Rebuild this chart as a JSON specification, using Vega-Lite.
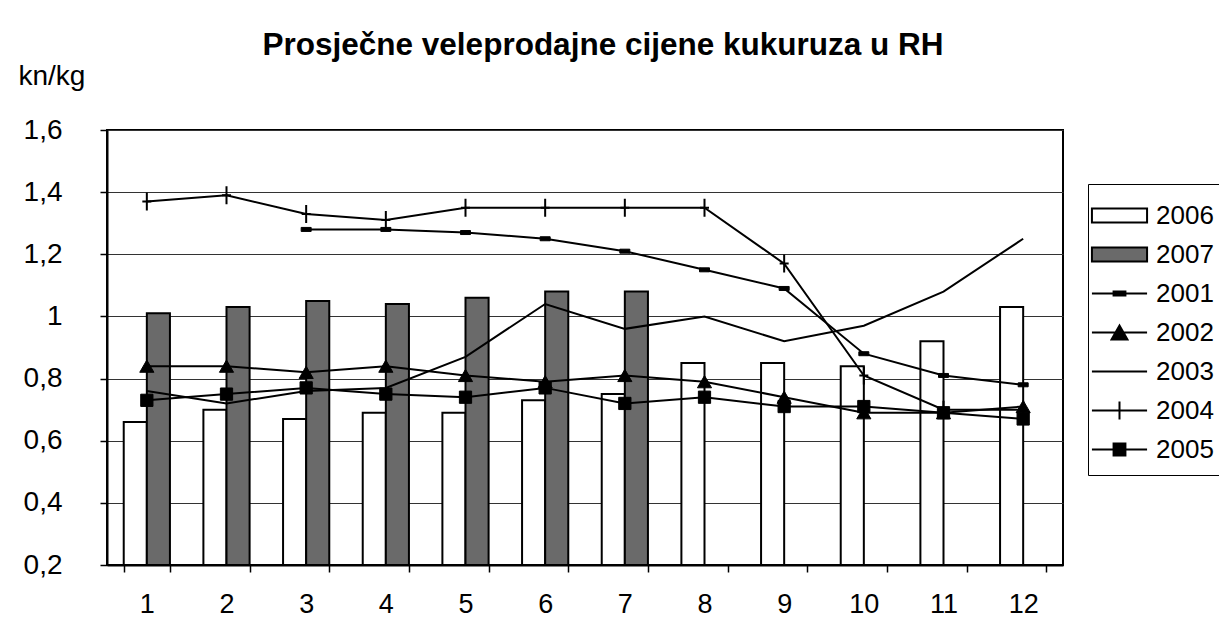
{
  "$schema": "https://vega.github.io/schema/vega-lite/v6.json",
  "autosize": {"type": "none"},
  "width": 956,
  "height": 435,
  "padding": {"left": 107, "top": 130, "right": 156, "bottom": 76},
  "background": "white",
  "config": {
    "font": "Liberation Sans",
    "view": {"stroke": "black", "strokeWidth": 2},
    "axis": {"domainColor": "black", "tickColor": "black", "labelColor": "black", "titleColor": "black", "labelFont": "Liberation Sans", "titleFont": "Liberation Sans"},
    "legend": {
      "orient": "none",
      "legendX": 981,
      "legendY": 54,
      "padding": 12,
      "strokeColor": "black",
      "fillColor": "white",
      "symbolSize": 1369,
      "symbolStrokeWidth": 2,
      "symbolStrokeColor": "black",
      "symbolOpacity": 1,
      "labelFontSize": 26,
      "labelFont": "Liberation Sans",
      "labelColor": "black",
      "labelOffset": 17
    }
  },
  "title": {
    "text": "Prosječne veleprodajne cijene kukuruza u RH",
    "font": "Liberation Sans",
    "fontSize": 31.5,
    "fontWeight": "bold",
    "color": "black",
    "anchor": "middle",
    "frame": "group",
    "baseline": "alphabetic",
    "dx": 18,
    "dy": 32,
    "offset": 8
  },
  "data": {
    "values": [
      {"m": 1, "s": "2006", "v": 0.66}, {"m": 2, "s": "2006", "v": 0.70}, {"m": 3, "s": "2006", "v": 0.67}, {"m": 4, "s": "2006", "v": 0.69},
      {"m": 5, "s": "2006", "v": 0.69}, {"m": 6, "s": "2006", "v": 0.73}, {"m": 7, "s": "2006", "v": 0.75}, {"m": 8, "s": "2006", "v": 0.85},
      {"m": 9, "s": "2006", "v": 0.85}, {"m": 10, "s": "2006", "v": 0.84}, {"m": 11, "s": "2006", "v": 0.92}, {"m": 12, "s": "2006", "v": 1.03},
      {"m": 1, "s": "2007", "v": 1.01}, {"m": 2, "s": "2007", "v": 1.03}, {"m": 3, "s": "2007", "v": 1.05}, {"m": 4, "s": "2007", "v": 1.04},
      {"m": 5, "s": "2007", "v": 1.06}, {"m": 6, "s": "2007", "v": 1.08}, {"m": 7, "s": "2007", "v": 1.08},
      {"m": 3, "s": "2001", "v": 1.28}, {"m": 4, "s": "2001", "v": 1.28}, {"m": 5, "s": "2001", "v": 1.27}, {"m": 6, "s": "2001", "v": 1.25},
      {"m": 7, "s": "2001", "v": 1.21}, {"m": 8, "s": "2001", "v": 1.15}, {"m": 9, "s": "2001", "v": 1.09}, {"m": 10, "s": "2001", "v": 0.88},
      {"m": 11, "s": "2001", "v": 0.81}, {"m": 12, "s": "2001", "v": 0.78},
      {"m": 1, "s": "2002", "v": 0.84}, {"m": 2, "s": "2002", "v": 0.84}, {"m": 3, "s": "2002", "v": 0.82}, {"m": 4, "s": "2002", "v": 0.84},
      {"m": 5, "s": "2002", "v": 0.81}, {"m": 6, "s": "2002", "v": 0.79}, {"m": 7, "s": "2002", "v": 0.81}, {"m": 8, "s": "2002", "v": 0.79},
      {"m": 9, "s": "2002", "v": 0.74}, {"m": 10, "s": "2002", "v": 0.69}, {"m": 11, "s": "2002", "v": 0.69}, {"m": 12, "s": "2002", "v": 0.71},
      {"m": 1, "s": "2003", "v": 0.76}, {"m": 2, "s": "2003", "v": 0.72}, {"m": 3, "s": "2003", "v": 0.76}, {"m": 4, "s": "2003", "v": 0.77},
      {"m": 5, "s": "2003", "v": 0.87}, {"m": 6, "s": "2003", "v": 1.04}, {"m": 7, "s": "2003", "v": 0.96}, {"m": 8, "s": "2003", "v": 1.00},
      {"m": 9, "s": "2003", "v": 0.92}, {"m": 10, "s": "2003", "v": 0.97}, {"m": 11, "s": "2003", "v": 1.08}, {"m": 12, "s": "2003", "v": 1.25},
      {"m": 1, "s": "2004", "v": 1.37}, {"m": 2, "s": "2004", "v": 1.39}, {"m": 3, "s": "2004", "v": 1.33}, {"m": 4, "s": "2004", "v": 1.31},
      {"m": 5, "s": "2004", "v": 1.35}, {"m": 6, "s": "2004", "v": 1.35}, {"m": 7, "s": "2004", "v": 1.35}, {"m": 8, "s": "2004", "v": 1.35},
      {"m": 9, "s": "2004", "v": 1.17}, {"m": 10, "s": "2004", "v": 0.81}, {"m": 11, "s": "2004", "v": 0.70}, {"m": 12, "s": "2004", "v": 0.70},
      {"m": 1, "s": "2005", "v": 0.73}, {"m": 2, "s": "2005", "v": 0.75}, {"m": 3, "s": "2005", "v": 0.77}, {"m": 4, "s": "2005", "v": 0.75},
      {"m": 5, "s": "2005", "v": 0.74}, {"m": 6, "s": "2005", "v": 0.77}, {"m": 7, "s": "2005", "v": 0.72}, {"m": 8, "s": "2005", "v": 0.74},
      {"m": 9, "s": "2005", "v": 0.71}, {"m": 10, "s": "2005", "v": 0.71}, {"m": 11, "s": "2005", "v": 0.69}, {"m": 12, "s": "2005", "v": 0.67}
    ]
  },
  "encoding": {
    "x": {
      "field": "m", "type": "ordinal",
      "scale": {"paddingInner": 0.42, "paddingOuter": 0.21},
      "axis": {"title": null, "labelAngle": 0, "labelFontSize": 27, "labelPadding": 19, "tickSize": 7, "tickWidth": 1.5, "domainWidth": 2, "tickBand": "extent", "grid": false}
    },
    "y": {
      "field": "v", "type": "quantitative",
      "scale": {"domain": [0.2, 1.6], "nice": false, "zero": false},
      "axis": {
        "values": [0.2, 0.4, 0.6, 0.8, 1.0, 1.2, 1.4, 1.6],
        "labelExpr": "replace(format(datum.value, '.1~f'), '.', ',')",
        "labelFontSize": 28, "labelPadding": 38, "tickSize": 7, "tickWidth": 1.5, "domainWidth": 2,
        "grid": true, "gridColor": "#333", "gridWidth": 1.2,
        "title": "kn/kg", "titleAngle": 0, "titleAlign": "left", "titleBaseline": "alphabetic",
        "titleX": -89, "titleY": -46, "titleFontSize": 28, "titleFontWeight": "normal"
      }
    }
  },
  "layer": [
    {
      "transform": [{"filter": "datum.s == '2006' || datum.s == '2007'"}],
      "mark": {"type": "bar", "stroke": "black", "strokeWidth": 2},
      "encoding": {
        "xOffset": {"field": "s", "type": "nominal", "scale": {"domain": ["2006", "2007"], "paddingInner": 0, "paddingOuter": 0}},
        "y2": {"datum": 0.2},
        "fill": {
          "field": "s", "type": "nominal",
          "scale": {"domain": ["2006", "2007", "2001", "2002", "2003", "2004", "2005"], "range": ["white", "#6a6a6a", "black", "black", "black", "black", "black"]},
          "legend": {"title": null, "rowPadding": 6}
        }
      }
    },
    {
      "mark": {"type": "point", "opacity": 0, "filled": true},
      "encoding": {
        "fill": {"field": "s", "type": "nominal", "legend": {"title": null, "rowPadding": 6}},
        "stroke": {
          "field": "s", "type": "nominal",
          "scale": {"domain": ["2006", "2007", "2001", "2002", "2003", "2004", "2005"], "range": ["black", "black", "black", "black", "black", "black", "black"]},
          "legend": {"title": null, "rowPadding": 6}
        },
        "shape": {
          "field": "s", "type": "nominal",
          "scale": {
            "domain": ["2006", "2007", "2001", "2002", "2003", "2004", "2005"],
            "range": [
              "M-1.49,-0.38H1.49V0.38H-1.49Z",
              "M-1.49,-0.38H1.49V0.38H-1.49Z",
              "M-1.49,0H1.49M-0.32,-0.11H0.32V0.11H-0.32Z",
              "M-1.49,0H1.49M-0.43,0.38L0,-0.38L0.43,0.38Z",
              "M-1.49,0H1.49",
              "M-1.49,0H1.49M0,-0.49V0.49",
              "M-1.49,0H1.49M-0.32,-0.32H0.32V0.32H-0.32Z"
            ]
          },
          "legend": {"title": null, "rowPadding": 6}
        }
      }
    },
    {
      "transform": [{"filter": "datum.s != '2006' && datum.s != '2007'"}],
      "mark": {"type": "line", "stroke": "black", "strokeWidth": 2},
      "encoding": {"detail": {"field": "s", "type": "nominal"}}
    },
    {
      "transform": [{"filter": "datum.s == '2001'"}],
      "mark": {"type": "point", "shape": "M-1,-0.4H1V0.4H-1Z", "size": 100, "filled": true, "fill": "black", "stroke": "black", "strokeWidth": 1, "opacity": 1}
    },
    {
      "transform": [{"filter": "datum.s == '2002'"}],
      "mark": {"type": "point", "shape": "triangle-up", "size": 200, "filled": true, "fill": "black", "stroke": "black", "strokeWidth": 1, "opacity": 1}
    },
    {
      "transform": [{"filter": "datum.s == '2004'"}],
      "mark": {"type": "point", "shape": "M0,-1V1M-0.5,0H0.5", "size": 324, "filled": false, "stroke": "black", "strokeWidth": 2, "opacity": 1}
    },
    {
      "transform": [{"filter": "datum.s == '2005'"}],
      "mark": {"type": "point", "shape": "square", "size": 150, "filled": true, "fill": "black", "stroke": "black", "strokeWidth": 1, "opacity": 1}
    }
  ]
}
